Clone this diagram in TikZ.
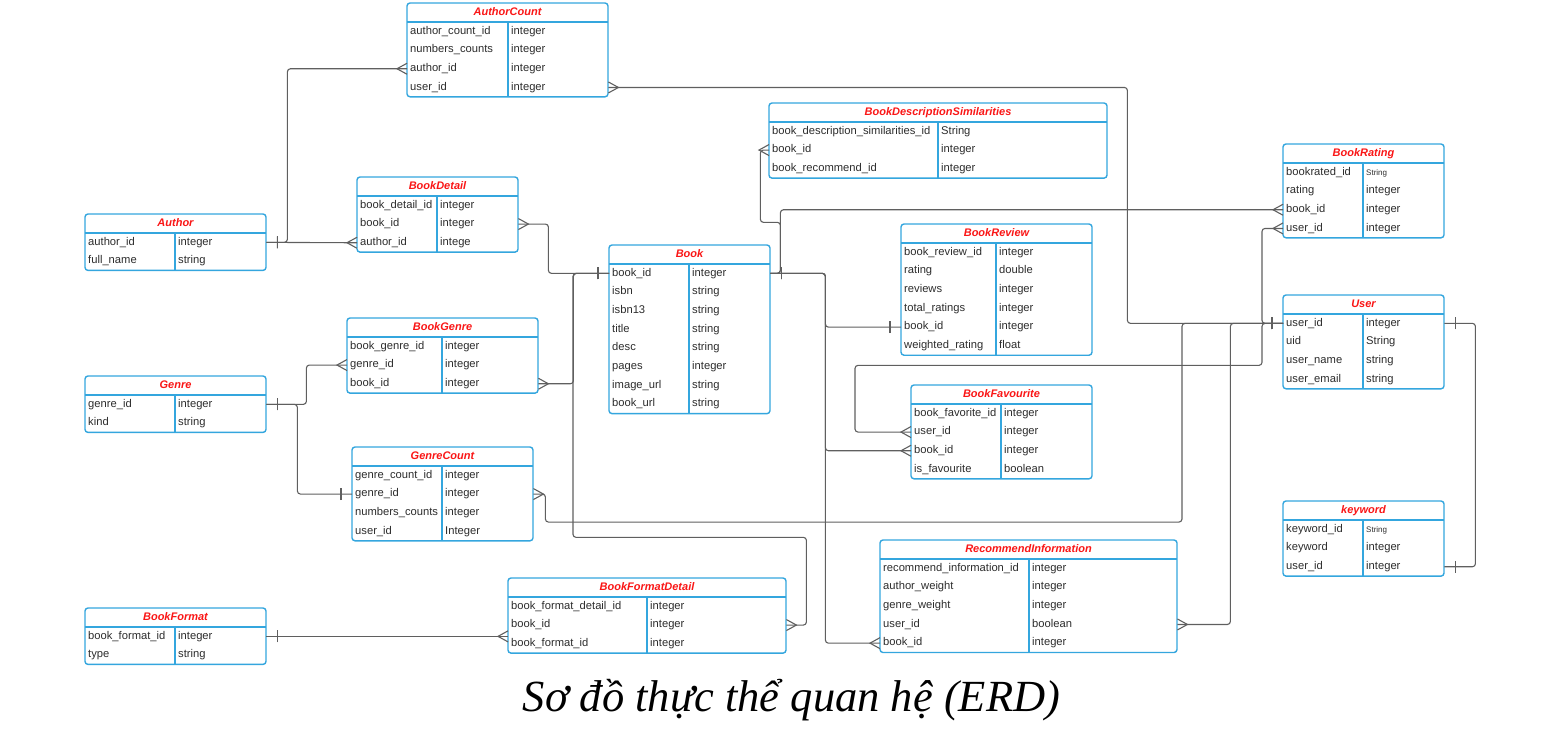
\documentclass[tikz,border=0pt]{standalone}
\usepackage{fontspec}
\setmainfont{Liberation Sans}
\newfontfamily\captionfont{Liberation Serif}
\usetikzlibrary{decorations.markings}
\definecolor{tblblue}{RGB}{52,166,222}
\definecolor{tblred}{RGB}{250,22,22}
\definecolor{linegray}{RGB}{95,95,95}
\definecolor{fieldtext}{RGB}{45,45,45}
\tikzset{
  tbl/.style={draw=tblblue, line width=1.4pt, rounded corners=3pt, anchor=north west,
    inner sep=0pt, outer sep=0pt, fill=white},
  tblsep/.style={draw=tblblue, line width=1.4pt},
  tblname/.style={text=tblred, font=\fontsize{11}{13}\selectfont\bfseries\itshape, inner sep=0pt,
    text height=8pt, text depth=2.6pt},
  field/.style={anchor=west, inner xsep=3pt, inner ysep=0pt, minimum height=18.7pt,
    align=left, text=fieldtext, font=\fontsize{11.2}{13}\selectfont, text height=8pt, text depth=2.6pt},
  ftype/.style={anchor=west, inner xsep=3pt, inner ysep=0pt, text=fieldtext,
    font=\fontsize{11.2}{13}\selectfont, text height=8pt, text depth=2.6pt},
  conn/.style={draw=linegray, line width=1.1pt, rounded corners=3pt},
  one start/.style={postaction={decorate, decoration={markings, mark=at position 0 with
    {\draw[linegray, line width=1.1pt, sharp corners] (11pt,-6pt) -- (11pt,6pt);}}}},
  one end/.style={postaction={decorate, decoration={markings, mark=at position 1 with
    {\draw[linegray, line width=1.1pt, sharp corners] (-11pt,-6pt) -- (-11pt,6pt);}}}},
  many start/.style={postaction={decorate, decoration={markings, mark=at position 0 with
    {\draw[linegray, line width=1.1pt, sharp corners] (0pt,5.5pt) -- (10pt,0pt) -- (0pt,-5.5pt);}}}},
  many end/.style={postaction={decorate, decoration={markings, mark=at position 1 with
    {\draw[linegray, line width=1.1pt, sharp corners] (0pt,5.5pt) -- (-10pt,0pt) -- (0pt,-5.5pt);}}}},
}
\begin{document}
\begin{tikzpicture}[x=1pt, y=-1pt]
  \useasboundingbox (0,0) rectangle (1549,729);

  \node[tbl, minimum width=201pt, minimum height=93.8pt] (authorcount) at (407,3) {};
  \node[tblname] (authorcount-name) at (507.5,12.5) {AuthorCount};
  \draw[tblsep] (407,22) -- (608,22) (508,22) -- (508,96.8);
  \foreach \fld/\typ [count=\i] in {author\_count\_id/integer, numbers\_counts/integer, author\_id/integer, user\_id/integer}{
    \node[field, text width=195pt] (authorcount-\i) at (407,12.65+18.7*\i) {\fld};
    \node[ftype] (authorcount-t\i) at (508,12.65+18.7*\i) {\typ};
  }

  \node[tbl, minimum width=338pt, minimum height=75.1pt] (bookdesc) at (769,103) {};
  \node[tblname] (bookdesc-name) at (938,112.5) {BookDescriptionSimilarities};
  \draw[tblsep] (769,122) -- (1107,122) (938,122) -- (938,178.1);
  \foreach \fld/\typ [count=\i] in {book\_description\_similarities\_id/String, book\_id/integer, book\_recommend\_id/integer}{
    \node[field, text width=332pt] (bookdesc-\i) at (769,112.65+18.7*\i) {\fld};
    \node[ftype] (bookdesc-t\i) at (938,112.65+18.7*\i) {\typ};
  }

  \node[tbl, minimum width=161pt, minimum height=93.8pt] (bookrating) at (1283,144) {};
  \node[tblname] (bookrating-name) at (1363.5,153.5) {BookRating};
  \draw[tblsep] (1283,163) -- (1444,163) (1363,163) -- (1363,237.8);
  \foreach \fld/\typ [count=\i] in {bookrated\_id/\footnotesize String, rating/integer, book\_id/integer, user\_id/integer}{
    \node[field, text width=155pt] (bookrating-\i) at (1283,153.65+18.7*\i) {\fld};
    \node[ftype] (bookrating-t\i) at (1363,153.65+18.7*\i) {\typ};
  }

  \node[tbl, minimum width=181pt, minimum height=56.4pt] (author) at (85,214) {};
  \node[tblname] (author-name) at (175.5,223.5) {Author};
  \draw[tblsep] (85,233) -- (266,233) (175,233) -- (175,270.4);
  \foreach \fld/\typ [count=\i] in {author\_id/integer, full\_name/string}{
    \node[field, text width=175pt] (author-\i) at (85,223.65+18.7*\i) {\fld};
    \node[ftype] (author-t\i) at (175,223.65+18.7*\i) {\typ};
  }

  \node[tbl, minimum width=161pt, minimum height=75.1pt] (bookdetail) at (357,177) {};
  \node[tblname] (bookdetail-name) at (437.5,186.5) {BookDetail};
  \draw[tblsep] (357,196) -- (518,196) (437,196) -- (437,252.1);
  \foreach \fld/\typ [count=\i] in {book\_detail\_id/integer, book\_id/integer, author\_id/intege}{
    \node[field, text width=155pt] (bookdetail-\i) at (357,186.65+18.7*\i) {\fld};
    \node[ftype] (bookdetail-t\i) at (437,186.65+18.7*\i) {\typ};
  }

  \node[tbl, minimum width=161pt, minimum height=168.6pt] (book) at (609,245) {};
  \node[tblname] (book-name) at (689.5,254.5) {Book};
  \draw[tblsep] (609,264) -- (770,264) (689,264) -- (689,413.6);
  \foreach \fld/\typ [count=\i] in {book\_id/integer, isbn/string, isbn13/string, title/string, desc/string, pages/integer, image\_url/string, book\_url/string}{
    \node[field, text width=155pt] (book-\i) at (609,254.65+18.7*\i) {\fld};
    \node[ftype] (book-t\i) at (689,254.65+18.7*\i) {\typ};
  }

  \node[tbl, minimum width=191pt, minimum height=131.2pt] (bookreview) at (901,224) {};
  \node[tblname] (bookreview-name) at (996.5,233.5) {BookReview};
  \draw[tblsep] (901,243) -- (1092,243) (996,243) -- (996,355.2);
  \foreach \fld/\typ [count=\i] in {book\_review\_id/integer, rating/double, reviews/integer, total\_ratings/integer, book\_id/integer, weighted\_rating/float}{
    \node[field, text width=185pt] (bookreview-\i) at (901,233.65+18.7*\i) {\fld};
    \node[ftype] (bookreview-t\i) at (996,233.65+18.7*\i) {\typ};
  }

  \node[tbl, minimum width=161pt, minimum height=93.8pt] (user) at (1283,295) {};
  \node[tblname] (user-name) at (1363.5,304.5) {User};
  \draw[tblsep] (1283,314) -- (1444,314) (1363,314) -- (1363,388.8);
  \foreach \fld/\typ [count=\i] in {user\_id/integer, uid/String, user\_name/string, user\_email/string}{
    \node[field, text width=155pt] (user-\i) at (1283,304.65+18.7*\i) {\fld};
    \node[ftype] (user-t\i) at (1363,304.65+18.7*\i) {\typ};
  }

  \node[tbl, minimum width=191pt, minimum height=75.1pt] (bookgenre) at (347,318) {};
  \node[tblname] (bookgenre-name) at (442.5,327.5) {BookGenre};
  \draw[tblsep] (347,337) -- (538,337) (442,337) -- (442,393.1);
  \foreach \fld/\typ [count=\i] in {book\_genre\_id/integer, genre\_id/integer, book\_id/integer}{
    \node[field, text width=185pt] (bookgenre-\i) at (347,327.65+18.7*\i) {\fld};
    \node[ftype] (bookgenre-t\i) at (442,327.65+18.7*\i) {\typ};
  }

  \node[tbl, minimum width=181pt, minimum height=56.4pt] (genre) at (85,376) {};
  \node[tblname] (genre-name) at (175.5,385.5) {Genre};
  \draw[tblsep] (85,395) -- (266,395) (175,395) -- (175,432.4);
  \foreach \fld/\typ [count=\i] in {genre\_id/integer, kind/string}{
    \node[field, text width=175pt] (genre-\i) at (85,385.65+18.7*\i) {\fld};
    \node[ftype] (genre-t\i) at (175,385.65+18.7*\i) {\typ};
  }

  \node[tbl, minimum width=181pt, minimum height=93.8pt] (bookfavourite) at (911,385) {};
  \node[tblname] (bookfavourite-name) at (1001.5,394.5) {BookFavourite};
  \draw[tblsep] (911,404) -- (1092,404) (1001,404) -- (1001,478.8);
  \foreach \fld/\typ [count=\i] in {book\_favorite\_id/integer, user\_id/integer, book\_id/integer, is\_favourite/boolean}{
    \node[field, text width=175pt] (bookfavourite-\i) at (911,394.65+18.7*\i) {\fld};
    \node[ftype] (bookfavourite-t\i) at (1001,394.65+18.7*\i) {\typ};
  }

  \node[tbl, minimum width=181pt, minimum height=93.8pt] (genrecount) at (352,447) {};
  \node[tblname] (genrecount-name) at (442.5,456.5) {GenreCount};
  \draw[tblsep] (352,466) -- (533,466) (442,466) -- (442,540.8);
  \foreach \fld/\typ [count=\i] in {genre\_count\_id/integer, genre\_id/integer, numbers\_counts/integer, user\_id/Integer}{
    \node[field, text width=175pt] (genrecount-\i) at (352,456.65+18.7*\i) {\fld};
    \node[ftype] (genrecount-t\i) at (442,456.65+18.7*\i) {\typ};
  }

  \node[tbl, minimum width=161pt, minimum height=75.1pt] (keyword) at (1283,501) {};
  \node[tblname] (keyword-name) at (1363.5,510.5) {keyword};
  \draw[tblsep] (1283,520) -- (1444,520) (1363,520) -- (1363,576.1);
  \foreach \fld/\typ [count=\i] in {keyword\_id/\footnotesize String, keyword/integer, user\_id/integer}{
    \node[field, text width=155pt] (keyword-\i) at (1283,510.65+18.7*\i) {\fld};
    \node[ftype] (keyword-t\i) at (1363,510.65+18.7*\i) {\typ};
  }

  \node[tbl, minimum width=297pt, minimum height=112.5pt] (recommendinformation) at (880,540) {};
  \node[tblname] (recommendinformation-name) at (1028.5,549.5) {RecommendInformation};
  \draw[tblsep] (880,559) -- (1177,559) (1029,559) -- (1029,652.5);
  \foreach \fld/\typ [count=\i] in {recommend\_information\_id/integer, author\_weight/integer, genre\_weight/integer, user\_id/boolean, book\_id/integer}{
    \node[field, text width=291pt] (recommendinformation-\i) at (880,549.65+18.7*\i) {\fld};
    \node[ftype] (recommendinformation-t\i) at (1029,549.65+18.7*\i) {\typ};
  }

  \node[tbl, minimum width=278pt, minimum height=75.1pt] (bookformatdetail) at (508,578) {};
  \node[tblname] (bookformatdetail-name) at (647,587.5) {BookFormatDetail};
  \draw[tblsep] (508,597) -- (786,597) (647,597) -- (647,653.1);
  \foreach \fld/\typ [count=\i] in {book\_format\_detail\_id/integer, book\_id/integer, book\_format\_id/integer}{
    \node[field, text width=272pt] (bookformatdetail-\i) at (508,587.65+18.7*\i) {\fld};
    \node[ftype] (bookformatdetail-t\i) at (647,587.65+18.7*\i) {\typ};
  }

  \node[tbl, minimum width=181pt, minimum height=56.4pt] (bookformat) at (85,608) {};
  \node[tblname] (bookformat-name) at (175.5,617.5) {BookFormat};
  \draw[tblsep] (85,627) -- (266,627) (175,627) -- (175,664.4);
  \foreach \fld/\typ [count=\i] in {book\_format\_id/integer, type/string}{
    \node[field, text width=175pt] (bookformat-\i) at (85,617.65+18.7*\i) {\fld};
    \node[ftype] (bookformat-t\i) at (175,617.65+18.7*\i) {\typ};
  }

  \draw[conn, one start, many end] (author-1.east) -- (bookdetail-3.west);
  \draw[conn, one start, many end] (author-1.east) -- ++(21,0) |- (authorcount-3.west);
  \draw[conn, many start, one end] (bookdetail-2.east) -- ++(30,0) |- (book-1.west);
  \draw[conn, many start, one end] (bookgenre-3.east) -- ++(35,0) |- (book-1.west);
  \draw[conn, one start, many end] (book-1.west) -- ++(-36,0) -- ++(0,264) -| ([xshift=20pt]bookformatdetail-2.east) -- (bookformatdetail-2.east);
  \draw[conn, many start, one end] (genrecount-2.east) -- ++(12,0) -- ++(0,28) -| ([xshift=-101pt]user-1.west) -- (user-1.west);
  \draw[conn, many start, one end] (authorcount-4.east) -- ++(519,0) |- (user-1.west);
  \draw[conn, many start, one end] (recommendinformation-4.east) -- ++(53,0) |- (user-1.west);
  \draw[conn, one start, many end] (user-1.west) -- ++(-21,0) -- ++(0,42) -| ([xshift=-56pt]bookfavourite-2.west) -- (bookfavourite-2.west);
  \draw[conn, one start, many end] (user-1.west) -- ++(-21,0) |- (bookrating-4.west);
  \draw[conn, one start, one end] (user-1.east) -- ++(31,0) |- (keyword-3.east);
  \draw[conn, one start, many end] (book-1.east) -- ++(10,0) -- ++(0,-51) -- ++(-20,0) |- (bookdesc-2.west);
  \draw[conn, one start, many end] (book-1.east) -- ++(10,0) |- (bookrating-3.west);
  \draw[conn, one start, one end] (book-1.east) -- ++(55,0) |- (bookreview-5.west);
  \draw[conn, one start, many end] (book-1.east) -- ++(55,0) |- (bookfavourite-3.west);
  \draw[conn, one start, many end] (book-1.east) -- ++(55,0) |- (recommendinformation-5.west);
  \draw[conn, one start, many end] (genre-1.east) -- ++(40,0) |- (bookgenre-2.west);
  \draw[conn, one start, one end] (genre-1.east) -- ++(31,0) |- (genrecount-2.west);
  \draw[conn, one start, many end] (bookformat-1.east) -- (bookformat-1.east -| bookformatdetail.west);

  \node[font=\captionfont\itshape\fontsize{44.5}{50}\selectfont, anchor=base] (caption) at (791.5,711) {Sơ đồ thực thể quan hệ (ERD)};
\end{tikzpicture}
\end{document}
